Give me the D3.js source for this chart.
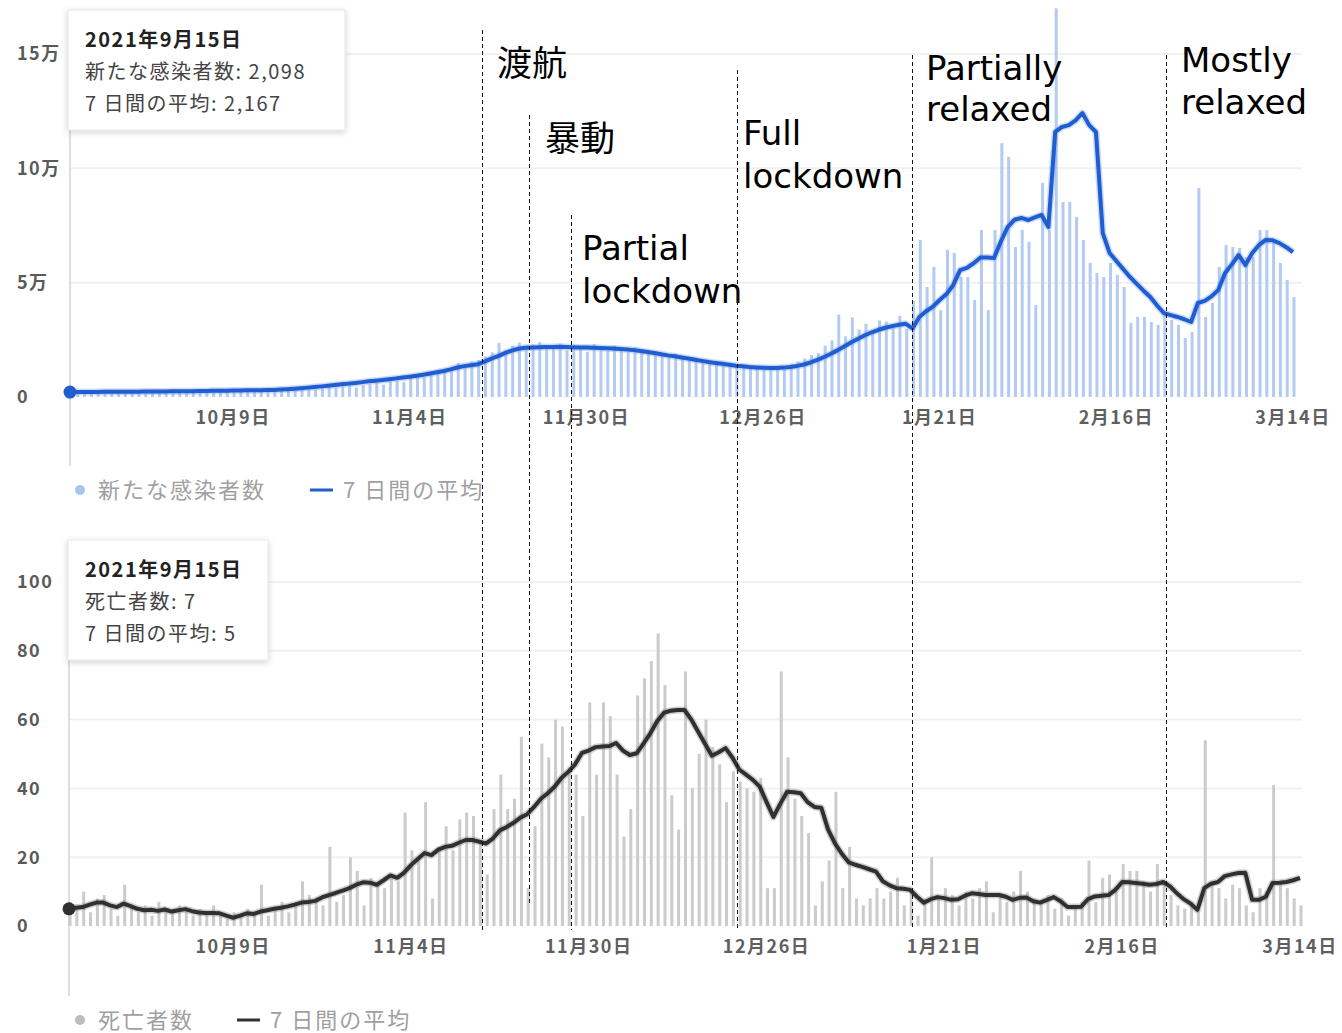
<!DOCTYPE html>
<html><head><meta charset="utf-8">
<script src="https://cdn.jsdelivr.net/npm/d3@7"></script>
<style>body{margin:0;background:#fff}svg{display:block}</style>
</head><body>
<svg id="c" width="1342" height="1033"></svg>
<script>
const startDate = "2021-09-15";
const cases = [
2098,2300,2500,2200,1900,2100,2600,2400,2300,2200,
2500,2700,2300,2100,2600,2800,2500,2400,2900,2700,
2600,2800,3000,2500,2400,2900,3200,2800,2700,3100,
3300,3000,2900,3500,3800,3400,3300,3900,4200,4000,
4500,5000,4200,5200,5600,6100,5400,6800,7200,6600,
8200,9000,8600,10100,10900,11500,12800,14900,13200,15600,
16200,17800,19500,23600,20500,22400,23800,21200,22900,24000,
22500,21000,23400,20400,22800,22100,19800,23200,21800,20100,
22400,21500,19600,21900,20200,18800,19900,18400,17600,18900,
16800,15900,17200,15400,14600,15800,13900,14700,13200,14100,
12400,13100,11800,13500,12200,12900,14200,15600,16900,18400,
19200,22500,24800,36000,26500,34800,29500,32000,28500,33500,
33000,30500,35500,29800,42000,68700,48100,56900,38000,64300,
63000,52500,52500,42400,73000,38000,73000,111000,105000,65600,
73000,67800,40200,93600,73000,170000,85300,85300,78700,68700,
58600,54200,52500,58600,53400,48100,32400,35000,35000,32800,
31500,35900,33700,31500,25800,28400,91400,35000,41100,56900,
66500,65600,65200,61200,61200,73000,73000,67300,58600,51200,43700];
const casesAvg = [
2167,2180,2200,2210,2230,2250,2270,2290,2300,2320,
2350,2380,2400,2420,2450,2480,2500,2530,2560,2600,
2640,2680,2720,2760,2800,2850,2900,2950,3000,3060,
3100,3250,3400,3600,3850,4100,4350,4650,4950,5250,
5550,5850,6150,6500,6850,7150,7450,7800,8150,8500,
8900,9300,9750,10250,10800,11400,12100,12900,13500,13900,
14300,15500,16800,17900,19200,20300,21100,21500,21700,21800,
21900,21900,22000,21900,21800,21700,21600,21500,21400,21300,
21200,21000,20800,20500,20100,19700,19200,18700,18200,17800,
17300,16800,16300,15800,15300,14900,14500,14100,13700,13400,
13100,12900,12750,12650,12700,12850,13150,13600,14200,15100,
16200,17500,18900,20500,22200,23900,25500,27000,28300,29400,
30300,31000,31600,32000,30000,35000,37500,39500,42400,45000,
49000,55500,56500,58500,61000,61000,60800,68000,74300,77500,
78300,77400,78500,79600,74300,115900,118100,118900,121000,124200,
118900,115900,71700,63000,59500,56000,52500,49500,46500,43700,
40000,36700,35800,35000,34000,32800,41100,42000,44000,46800,
54200,58000,62100,57700,63000,66500,68700,68500,67300,65500,63400];
const deaths = [
7,5,10,4,8,9,5,3,12,6,
4,6,3,7,5,4,6,5,3,5,
4,6,3,2,4,3,5,4,12,3,
5,7,4,6,13,9,8,6,23,7,
9,20,16,6,14,12,11,15,13,33,
22,19,36,8,23,29,22,31,33,32,
24,15,34,44,34,37,55,11,29,53,
49,60,58,45,44,32,65,44,65,61,
44,26,34,67,72,77,85,70,38,28,
74,40,50,60,52,47,36,45,42,40,
39,43,11,11,74,49,37,32,27,6,
13,19,39,11,23,8,6,8,11,8,
10,14,6,11,3,8,20,8,11,9,
6,10,8,11,13,4,9,7,10,16,
10,8,7,9,5,8,3,6,7,19,
7,14,15,10,18,16,16,13,10,18,
12,9,6,5,7,4,54,13,11,8,
12,11,6,4,11,10,41,13,11,8,6];
const deathsAvg = [
5,5.3,5.5,6.2,6.8,6.8,6,5.5,6.5,5.8,
5,4.6,4.7,4.4,4.8,4.2,4.6,4.9,4.3,3.9,
3.8,3.8,3.7,3,2.4,3,3.7,3.5,4.2,4.6,
5,5.3,5.7,6.2,6.8,7,7.3,8.3,9,9.6,
10.3,11,12,12.7,12.6,12,13.3,14.7,14,15.5,
17.7,19.5,21.2,20.6,22.2,23,23.3,24.2,25,25,
24.5,24,25.5,27.8,28.8,30,31.5,32.5,34.6,37,
38.6,40.5,43,44.8,47,50.3,51,52,52.2,52.3,
53.2,51,49.7,50.2,53,56,59.5,62,62.6,62.8,
62.8,60,56.5,53,49.5,50.5,51.7,49,45.5,44,
42.5,40.5,36,31.7,35.5,39,38.9,38.6,36,34.6,
34.4,28,24,21,18.5,17.8,17.2,16.5,15.8,13,
11.8,11,10.8,10.5,8.5,6.8,7.8,8.4,8.1,7.6,
7.8,8.8,9.5,9.3,9,9,9,8.5,7.6,8.2,
8.3,7.2,6.8,7.6,8.4,7.2,5.5,5.5,5.6,7.8,
8.6,8.8,9,10.5,12.8,12.7,12.5,12.3,12,12.2,
12.8,11.5,9.5,7.8,6.5,4.7,11,12.3,12.8,14.5,
15,15.4,15.5,7.6,7.6,8.5,12.5,12.6,12.8,13.3,14];
const tickDates = ["2021-10-09","2021-11-04","2021-11-30","2021-12-26","2022-01-21","2022-02-16","2022-03-14"];
const tickLabels = ["10月9日","11月4日","11月30日","12月26日","1月21日","2月16日","3月14日"];
const casesTicks = [0,50000,100000,150000];
const casesTickLabels = ["0","5万","10万","15万"];
const deathTicks = [0,20,40,60,80,100];
const deathTickLabels = ["0","20","40","60","80","100"];
const eventDays = [60.6,67.5,73.7,98.2,123.9,161.3];
const eventLabels = [["渡航"],["暴動"],["Partial","lockdown"],["Full","lockdown"],["Partially","relaxed"],["Mostly","relaxed"]];
const tipCases = ["2021年9月15日","新たな感染者数: 2,098","7 日間の平均: 2,167"];
const tipDeaths = ["2021年9月15日","死亡者数: 7","7 日間の平均: 5"];
const legendCases = ["新たな感染者数","7 日間の平均"];
const legendDeaths = ["死亡者数","7 日間の平均"];

// ---------- layout / style ----------
const JP = "'Noto Sans CJK JP','Noto Sans',sans-serif";
const svg = d3.select("#c");
const day = 864e5;
const t0 = new Date(startDate + "T00:00:00Z");
const dates = cases.map((_, i) => new Date(+t0 + i * day));
const tEnd = dates[dates.length - 1];
const parse = s => new Date(s + "T00:00:00Z");

const defs = svg.append("defs");
const f = defs.append("filter").attr("id","sh").attr("x","-10%").attr("y","-10%").attr("width","130%").attr("height","140%");
f.append("feDropShadow").attr("dx",0).attr("dy",2).attr("stdDeviation",3).attr("flood-color","#000").attr("flood-opacity",0.18);

function panel(cfg) {
  const x = d3.scaleUtc().domain([t0, tEnd]).range(cfg.xRange);
  const y = d3.scaleLinear().domain(cfg.yDomain).range(cfg.yRange);
  const g = svg.append("g");
  g.selectAll(".grid").data(cfg.yTicks.slice(1)).join("line")
    .attr("x1", cfg.xRange[0]).attr("x2", 1302)
    .attr("y1", d => y(d)).attr("y2", d => y(d))
    .attr("stroke", "#f1f1f1").attr("stroke-width", 2);
  g.selectAll(".yl").data(cfg.yTicks).join("text")
    .attr("x", 17).attr("y", d => y(d)).attr("dy", "0.35em")
    .attr("font-family", JP).attr("font-size", 18).attr("letter-spacing", 1.5)
    .attr("fill", "#5a5a5a").attr("font-weight", 700)
    .text((d, i) => cfg.yLabels[i]);
  g.append("line").attr("x1", x(t0)).attr("x2", x(t0))
    .attr("y1", cfg.cursor[0]).attr("y2", cfg.cursor[1])
    .attr("stroke", "#dedede").attr("stroke-width", 2);
  g.selectAll(".bar").data(cfg.bars).join("rect")
    .attr("x", (d, i) => x(dates[i]) - 0.5).attr("width", 3)
    .attr("y", d => y(d)).attr("height", d => y(0) - y(d))
    .attr("fill", cfg.barColor);
  const line = d3.line().x((d, i) => x(dates[i])).y(d => y(d));
  g.append("path").datum(cfg.avg).attr("d", line)
    .attr("fill", "none").attr("stroke", cfg.lineHalo).attr("stroke-width", 7)
    .attr("stroke-linejoin", "round").attr("opacity", 0.35);
  g.append("path").datum(cfg.avg).attr("d", line)
    .attr("fill", "none").attr("stroke", cfg.lineColor).attr("stroke-width", 4)
    .attr("stroke-linejoin", "round");
  g.append("circle").attr("cx", x(t0)).attr("cy", y(cfg.avg[0])).attr("r", 6.5).attr("fill", cfg.lineColor);
  g.selectAll(".xl").data(tickDates).join("text")
    .attr("x", d => x(parse(d))).attr("y", cfg.xLabelY).attr("dy", "0.35em")
    .attr("text-anchor", "middle").attr("font-family", JP).attr("font-size", 18)
    .attr("letter-spacing", 1.5).attr("fill", "#5f5f5f").attr("font-weight", 700)
    .text((d, i) => tickLabels[i]);
  const ly = cfg.legendY;
  g.append("circle").attr("cx", 80).attr("cy", ly).attr("r", 5).attr("fill", cfg.legendDot);
  g.append("text").attr("x", 98).attr("y", ly).attr("dy", "0.35em")
    .attr("font-family", JP).attr("font-size", 22).attr("letter-spacing", 2).attr("fill", "#a0a0a0")
    .text(cfg.legend[0]);
  g.append("line").attr("x1", cfg.legendLineX).attr("x2", cfg.legendLineX + 23)
    .attr("y1", ly).attr("y2", ly).attr("stroke", cfg.lineColor).attr("stroke-width", 3);
  g.append("text").attr("x", cfg.legendLineX + 33).attr("y", ly).attr("dy", "0.35em")
    .attr("font-family", JP).attr("font-size", 22).attr("letter-spacing", 2).attr("fill", "#a0a0a0")
    .text(cfg.legend[1]);
  const tb = cfg.tip;
  const tg = g.append("g");
  tg.append("rect").attr("x", tb.x).attr("y", tb.y).attr("width", tb.w).attr("height", tb.h)
    .attr("fill", "#fff").attr("stroke", "#e6e6e6").attr("filter", "url(#sh)");
  tg.selectAll("text").data(cfg.tipLines).join("text")
    .attr("x", tb.x + 17).attr("y", (d, i) => tb.y + 30 + i * 32).attr("dy", "0.35em")
    .attr("font-family", JP).attr("font-size", 20).attr("letter-spacing", 1.5)
    .attr("font-weight", (d, i) => i === 0 ? 700 : 400)
    .attr("fill", (d, i) => i === 0 ? "#222" : "#444")
    .text(d => d);
  return x;
}

const xTop = panel({
  xRange: [70, 1293], yDomain: [0, 150000], yRange: [397, 54],
  yTicks: casesTicks, yLabels: casesTickLabels, cursor: [130, 466],
  bars: cases, avg: casesAvg, barColor: "#b3cbf3",
  lineColor: "#1f5dd0", lineHalo: "#6d9cf0",
  xLabelY: 418, legendY: 490, legendDot: "#a9c3f2", legend: legendCases, legendLineX: 310,
  tip: {x: 68, y: 10, w: 277, h: 120}, tipLines: tipCases
});
panel({
  xRange: [69, 1300], yDomain: [0, 100], yRange: [926, 582],
  yTicks: deathTicks, yLabels: deathTickLabels, cursor: [660, 996],
  bars: deaths, avg: deathsAvg, barColor: "#cbcbcb",
  lineColor: "#303030", lineHalo: "#777",
  xLabelY: 947, legendY: 1020, legendDot: "#bdbdbd", legend: legendDeaths, legendLineX: 237,
  tip: {x: 68, y: 540, w: 200, h: 120}, tipLines: tipDeaths
});

// ---------- event annotations ----------
const evLayout = [
  {top: 30, bottom: 930, tx: 497, ty: [64], jp: true},
  {top: 115, bottom: 905, tx: 545, ty: [139], jp: true},
  {top: 215, bottom: 930, tx: 582, ty: [260, 303]},
  {top: 70, bottom: 930, tx: 743, ty: [145, 188]},
  {top: 55, bottom: 930, tx: 926, ty: [80, 121]},
  {top: 55, bottom: 930, tx: 1181, ty: [72, 114]}
];
const eg = svg.append("g");
eventDays.forEach((d, i) => {
  const L = evLayout[i];
  const xv = Math.round(xTop(new Date(+t0 + d * day))) + 0.5;
  eg.append("line").attr("x1", xv).attr("x2", xv).attr("y1", L.top).attr("y2", L.bottom)
    .attr("stroke", "#111").attr("stroke-width", 1).attr("stroke-dasharray", "4,3");
  eventLabels[i].forEach((s, j) => {
    const t = eg.append("text").attr("x", L.tx).attr("y", L.ty[j]).attr("fill", "#000").text(s);
    if (L.jp) t.attr("font-family", JP).attr("font-size", 35).attr("dy", "0.35em");
    else t.attr("font-family", "'DejaVu Sans',Verdana,sans-serif").attr("font-size", 34);
  });
});
</script>
</body></html>
